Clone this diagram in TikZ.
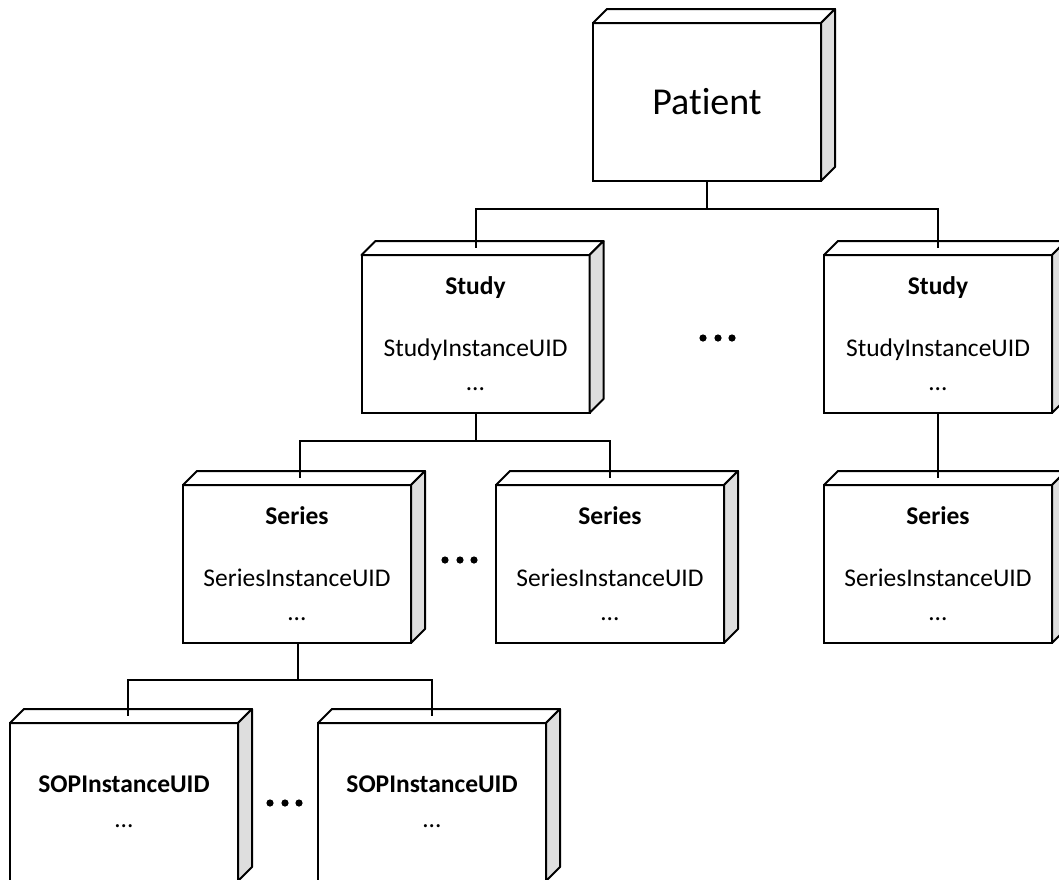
\documentclass[tikz,border=0pt]{standalone}
\usepackage{fontspec}
\setmainfont{Carlito}[Ligatures=NoCommon]
\usetikzlibrary{calc}
\begin{document}
\begin{tikzpicture}[x=1pt,y=-1pt,
  box/.style={draw, line width=2pt, fill=white, outer sep=0pt, inner sep=0pt,
    minimum width=228pt, minimum height=158pt, align=center,
    font=\fontsize{25.5}{31}\selectfont},
  face/.style={draw, line width=2pt, line join=round},
  link/.style={line width=2pt},
  more/.style={fill=black}]
\clip (0,0) rectangle (1059,879);

% front faces of the 3D boxes
\node[box, font=\fontsize{38}{46}\selectfont] (patient) at (707,102) {Patient};
\node[box] (study1) at (475.5,334) {\textbf{Study}\\[31pt]StudyInstanceUID\\[3pt]…};
\node[box] (study2) at (938,334) {\textbf{Study}\\[31pt]StudyInstanceUID\\[3pt]…};
\node[box] (series1) at (297,564) {\textbf{Series}\\[31pt]SeriesInstanceUID\\[3pt]…};
\node[box] (series2) at (610,564) {\textbf{Series}\\[31pt]SeriesInstanceUID\\[3pt]…};
\node[box] (series3) at (938,564) {\textbf{Series}\\[31pt]SeriesInstanceUID\\[3pt]…};
\node[box] (sop1) at (124,802) {\textbf{SOPInstanceUID}\\[4pt]…};
\node[box] (sop2) at (432,802) {\textbf{SOPInstanceUID}\\[4pt]…};

% top and side faces
\foreach \n in {patient,study1,study2,series1,series2,series3,sop1,sop2}{
  \filldraw[face, fill=white] (\n.north west) -- ([shift={(14,-14)}]\n.north west)
    -- ([shift={(14,-14)}]\n.north east) -- (\n.north east) -- cycle;
  \filldraw[face, fill=black!13] (\n.north east) -- ([shift={(14,-14)}]\n.north east)
    -- ([shift={(14,-14)}]\n.south east) -- (\n.south east) -- cycle;
}

% tree connectors
\draw[link] (patient.south) -- ++(0,28) -| ([yshift=7pt]study1.north);
\draw[link] (patient.south) -- ++(0,28) -| ([yshift=7pt]study2.north);
\draw[link] (study1.south) -- ++(0,28) -| ([xshift=3pt,yshift=7pt]series1.north);
\draw[link] (study1.south) -- ++(0,28) -| ([yshift=7pt]series2.north);
\draw[link] (study2.south) -- ([yshift=7pt]series3.north);
\draw[link] ([xshift=1pt]series1.south) -- ++(0,37) -| ([xshift=4pt,yshift=7pt]sop1.north);
\draw[link] ([xshift=1pt]series1.south) -- ++(0,37) -| ([yshift=7pt]sop2.north);

% ellipsis marks between siblings
\foreach \x in {703,718,732} \fill[more] (\x,338) circle[radius=3.6pt];
\foreach \x in {445,460,474} \fill[more] (\x,560) circle[radius=3.6pt];
\foreach \x in {270,285,299} \fill[more] (\x,803) circle[radius=3.6pt];
\end{tikzpicture}
\end{document}
